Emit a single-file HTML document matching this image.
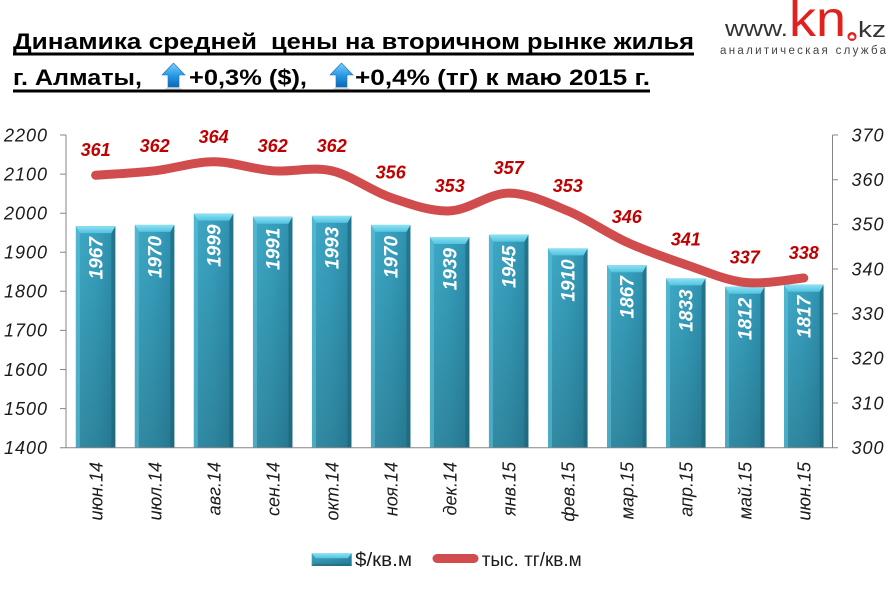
<!DOCTYPE html>
<html><head><meta charset="utf-8"><style>
html,body{margin:0;padding:0;background:#fff;}
svg{display:block;}
text{font-family:"Liberation Sans","DejaVu Sans",sans-serif;}
</style></head><body>
<svg width="886" height="591" viewBox="0 0 886 591" xmlns="http://www.w3.org/2000/svg">
<defs>
<linearGradient id="bodyH" x1="0" y1="0" x2="1" y2="0">
<stop offset="0" stop-color="#3fa9c6"/><stop offset="0.5" stop-color="#37a0be"/><stop offset="1" stop-color="#2d8fad"/>
</linearGradient>
<linearGradient id="shadeV" x1="0" y1="0" x2="0" y2="1">
<stop offset="0" stop-color="#000" stop-opacity="0"/><stop offset="1" stop-color="#000" stop-opacity="0.18"/>
</linearGradient>
<linearGradient id="capG" x1="0" y1="0" x2="0" y2="1">
<stop offset="0" stop-color="#8fe2f3"/><stop offset="1" stop-color="#52c3e0"/>
</linearGradient>
<linearGradient id="arrG" x1="0" y1="0" x2="0" y2="1">
<stop offset="0" stop-color="#7fd0fa"/><stop offset="0.5" stop-color="#2b9ae6"/><stop offset="1" stop-color="#0b67b5"/>
</linearGradient>
<g id="arrow">
<ellipse cx="11.5" cy="26" rx="8" ry="2.5" fill="#000" opacity="0.15"/>
<polygon points="11.5,0 0,12 6,12 6,24 17,24 17,12 23,12" fill="url(#arrG)" stroke="#1273bf" stroke-width="0.6"/>
</g>
</defs>

<!-- Title -->
<g font-weight="bold" fill="#000" font-size="22">
<text x="13" y="49" textLength="244" lengthAdjust="spacingAndGlyphs">Динамика средней</text>
<text x="271" y="49" textLength="423" lengthAdjust="spacingAndGlyphs">цены на вторичном рынке жилья</text>
<rect x="13" y="52.5" width="681" height="3" fill="#000"/>
<text x="13" y="85" textLength="129" lengthAdjust="spacingAndGlyphs">г. Алматы,</text>
<text x="189" y="85" textLength="118" lengthAdjust="spacingAndGlyphs">+0,3% ($),</text>
<text x="355" y="85" textLength="295" lengthAdjust="spacingAndGlyphs">+0,4% (тг) к маю 2015 г.</text>
<rect x="13" y="89.5" width="637" height="3" fill="#000"/>
</g>
<use href="#arrow" x="162" y="63"/>
<use href="#arrow" x="330" y="63"/>

<!-- Logo -->
<text x="725" y="36" font-size="22" fill="#333" textLength="63" lengthAdjust="spacingAndGlyphs">www.</text>
<text x="789" y="36" font-size="50" fill="#e0221f" textLength="57" lengthAdjust="spacingAndGlyphs">kn</text>
<circle cx="852" cy="36.5" r="4.5" fill="#e0221f"/>
<path d="M849.6,38.5 L849.6,36.3 L852,34.3 L854.4,36.3 L854.4,38.5 Z" fill="#fff"/>
<text x="858" y="37" font-size="22" fill="#333" textLength="28" lengthAdjust="spacingAndGlyphs">kz</text>
<text x="720" y="54" font-size="11.5" fill="#444" textLength="166" lengthAdjust="spacing">аналитическая служба</text>

<!-- Bars -->
<g>
<g transform="translate(75.85,226.1)"><rect width="39.5" height="221.4" fill="url(#bodyH)"/><rect width="39.5" height="221.4" fill="url(#shadeV)"/><polygon points="0,0 4,7 4,221.4 0,221.4" fill="#5cc0da" opacity="0.6"/><polygon points="39.5,0 35.5,7 35.5,221.4 39.5,221.4" fill="#1d6172" opacity="0.55"/><polygon points="0,0 39.5,0 35.5,7 4,7" fill="url(#capG)"/></g>
<g transform="translate(134.85,224.9)"><rect width="39.5" height="222.6" fill="url(#bodyH)"/><rect width="39.5" height="222.6" fill="url(#shadeV)"/><polygon points="0,0 4,7 4,222.6 0,222.6" fill="#5cc0da" opacity="0.6"/><polygon points="39.5,0 35.5,7 35.5,222.6 39.5,222.6" fill="#1d6172" opacity="0.55"/><polygon points="0,0 39.5,0 35.5,7 4,7" fill="url(#capG)"/></g>
<g transform="translate(193.85,213.6)"><rect width="39.5" height="233.9" fill="url(#bodyH)"/><rect width="39.5" height="233.9" fill="url(#shadeV)"/><polygon points="0,0 4,7 4,233.9 0,233.9" fill="#5cc0da" opacity="0.6"/><polygon points="39.5,0 35.5,7 35.5,233.9 39.5,233.9" fill="#1d6172" opacity="0.55"/><polygon points="0,0 39.5,0 35.5,7 4,7" fill="url(#capG)"/></g>
<g transform="translate(252.95,216.7)"><rect width="39.5" height="230.8" fill="url(#bodyH)"/><rect width="39.5" height="230.8" fill="url(#shadeV)"/><polygon points="0,0 4,7 4,230.8 0,230.8" fill="#5cc0da" opacity="0.6"/><polygon points="39.5,0 35.5,7 35.5,230.8 39.5,230.8" fill="#1d6172" opacity="0.55"/><polygon points="0,0 39.5,0 35.5,7 4,7" fill="url(#capG)"/></g>
<g transform="translate(311.95,215.9)"><rect width="39.5" height="231.6" fill="url(#bodyH)"/><rect width="39.5" height="231.6" fill="url(#shadeV)"/><polygon points="0,0 4,7 4,231.6 0,231.6" fill="#5cc0da" opacity="0.6"/><polygon points="39.5,0 35.5,7 35.5,231.6 39.5,231.6" fill="#1d6172" opacity="0.55"/><polygon points="0,0 39.5,0 35.5,7 4,7" fill="url(#capG)"/></g>
<g transform="translate(370.95,224.9)"><rect width="39.5" height="222.6" fill="url(#bodyH)"/><rect width="39.5" height="222.6" fill="url(#shadeV)"/><polygon points="0,0 4,7 4,222.6 0,222.6" fill="#5cc0da" opacity="0.6"/><polygon points="39.5,0 35.5,7 35.5,222.6 39.5,222.6" fill="#1d6172" opacity="0.55"/><polygon points="0,0 39.5,0 35.5,7 4,7" fill="url(#capG)"/></g>
<g transform="translate(429.95,237.0)"><rect width="39.5" height="210.5" fill="url(#bodyH)"/><rect width="39.5" height="210.5" fill="url(#shadeV)"/><polygon points="0,0 4,7 4,210.5 0,210.5" fill="#5cc0da" opacity="0.6"/><polygon points="39.5,0 35.5,7 35.5,210.5 39.5,210.5" fill="#1d6172" opacity="0.55"/><polygon points="0,0 39.5,0 35.5,7 4,7" fill="url(#capG)"/></g>
<g transform="translate(488.95,234.7)"><rect width="39.5" height="212.8" fill="url(#bodyH)"/><rect width="39.5" height="212.8" fill="url(#shadeV)"/><polygon points="0,0 4,7 4,212.8 0,212.8" fill="#5cc0da" opacity="0.6"/><polygon points="39.5,0 35.5,7 35.5,212.8 39.5,212.8" fill="#1d6172" opacity="0.55"/><polygon points="0,0 39.5,0 35.5,7 4,7" fill="url(#capG)"/></g>
<g transform="translate(548.05,248.4)"><rect width="39.5" height="199.1" fill="url(#bodyH)"/><rect width="39.5" height="199.1" fill="url(#shadeV)"/><polygon points="0,0 4,7 4,199.1 0,199.1" fill="#5cc0da" opacity="0.6"/><polygon points="39.5,0 35.5,7 35.5,199.1 39.5,199.1" fill="#1d6172" opacity="0.55"/><polygon points="0,0 39.5,0 35.5,7 4,7" fill="url(#capG)"/></g>
<g transform="translate(607.05,265.2)"><rect width="39.5" height="182.3" fill="url(#bodyH)"/><rect width="39.5" height="182.3" fill="url(#shadeV)"/><polygon points="0,0 4,7 4,182.3 0,182.3" fill="#5cc0da" opacity="0.6"/><polygon points="39.5,0 35.5,7 35.5,182.3 39.5,182.3" fill="#1d6172" opacity="0.55"/><polygon points="0,0 39.5,0 35.5,7 4,7" fill="url(#capG)"/></g>
<g transform="translate(666.05,278.4)"><rect width="39.5" height="169.1" fill="url(#bodyH)"/><rect width="39.5" height="169.1" fill="url(#shadeV)"/><polygon points="0,0 4,7 4,169.1 0,169.1" fill="#5cc0da" opacity="0.6"/><polygon points="39.5,0 35.5,7 35.5,169.1 39.5,169.1" fill="#1d6172" opacity="0.55"/><polygon points="0,0 39.5,0 35.5,7 4,7" fill="url(#capG)"/></g>
<g transform="translate(725.05,286.7)"><rect width="39.5" height="160.8" fill="url(#bodyH)"/><rect width="39.5" height="160.8" fill="url(#shadeV)"/><polygon points="0,0 4,7 4,160.8 0,160.8" fill="#5cc0da" opacity="0.6"/><polygon points="39.5,0 35.5,7 35.5,160.8 39.5,160.8" fill="#1d6172" opacity="0.55"/><polygon points="0,0 39.5,0 35.5,7 4,7" fill="url(#capG)"/></g>
<g transform="translate(784.05,284.7)"><rect width="39.5" height="162.8" fill="url(#bodyH)"/><rect width="39.5" height="162.8" fill="url(#shadeV)"/><polygon points="0,0 4,7 4,162.8 0,162.8" fill="#5cc0da" opacity="0.6"/><polygon points="39.5,0 35.5,7 35.5,162.8 39.5,162.8" fill="#1d6172" opacity="0.55"/><polygon points="0,0 39.5,0 35.5,7 4,7" fill="url(#capG)"/></g>
</g>

<!-- Bar labels -->
<g font-size="19" font-weight="bold" font-style="italic" fill="#fff" text-anchor="end">
<text transform="translate(95.6,237.1) rotate(-90)" dy="0.36em">1967</text>
<text transform="translate(154.6,235.9) rotate(-90)" dy="0.36em">1970</text>
<text transform="translate(213.6,224.6) rotate(-90)" dy="0.36em">1999</text>
<text transform="translate(272.7,227.7) rotate(-90)" dy="0.36em">1991</text>
<text transform="translate(331.7,226.9) rotate(-90)" dy="0.36em">1993</text>
<text transform="translate(390.7,235.9) rotate(-90)" dy="0.36em">1970</text>
<text transform="translate(449.7,248.0) rotate(-90)" dy="0.36em">1939</text>
<text transform="translate(508.7,245.7) rotate(-90)" dy="0.36em">1945</text>
<text transform="translate(567.8,259.4) rotate(-90)" dy="0.36em">1910</text>
<text transform="translate(626.8,276.2) rotate(-90)" dy="0.36em">1867</text>
<text transform="translate(685.8,289.4) rotate(-90)" dy="0.36em">1833</text>
<text transform="translate(744.8,297.7) rotate(-90)" dy="0.36em">1812</text>
<text transform="translate(803.8,295.7) rotate(-90)" dy="0.36em">1817</text>
</g>

<!-- Axes -->
<g stroke="#868686" stroke-width="1" fill="none">
<line x1="66" y1="135" x2="66" y2="448"/>
<line x1="832.5" y1="135" x2="832.5" y2="448"/>
<line x1="60" y1="447.7" x2="838" y2="447.7"/>
<path d="M60,408.6H66M60,369.5H66M60,330.4H66M60,291.3H66M60,252.3H66M60,213.2H66M60,174.1H66M60,135H66"/>
<path d="M832.5,403H838M832.5,358.4H838M832.5,313.7H838M832.5,269H838M832.5,224.4H838M832.5,179.7H838M832.5,135H838"/>
</g>

<!-- Left axis labels -->
<g font-size="18" font-style="italic" fill="#1a1a1a" letter-spacing="1">
<text x="4" y="141.3">2200</text>
<text x="4" y="180.4">2100</text>
<text x="4" y="219.5">2000</text>
<text x="4" y="258.6">1900</text>
<text x="4" y="297.6">1800</text>
<text x="4" y="336.7">1700</text>
<text x="4" y="375.8">1600</text>
<text x="4" y="414.9">1500</text>
<text x="4" y="454">1400</text>
</g>
<!-- Right axis labels -->
<g font-size="18" font-style="italic" fill="#1a1a1a" letter-spacing="1">
<text x="851.5" y="141.3">370</text>
<text x="851.5" y="186">360</text>
<text x="851.5" y="230.7">350</text>
<text x="851.5" y="275.3">340</text>
<text x="851.5" y="320">330</text>
<text x="851.5" y="364.7">320</text>
<text x="851.5" y="409.3">310</text>
<text x="851.5" y="454">300</text>
</g>

<!-- X labels -->
<g font-size="18" font-style="italic" fill="#1a1a1a" text-anchor="end">
<text transform="translate(95.6,462) rotate(-90)" dy="0.38em">июн.14</text>
<text transform="translate(154.6,462) rotate(-90)" dy="0.38em">июл.14</text>
<text transform="translate(213.6,462) rotate(-90)" dy="0.38em">авг.14</text>
<text transform="translate(272.7,462) rotate(-90)" dy="0.38em">сен.14</text>
<text transform="translate(331.7,462) rotate(-90)" dy="0.38em">окт.14</text>
<text transform="translate(390.7,462) rotate(-90)" dy="0.38em">ноя.14</text>
<text transform="translate(449.7,462) rotate(-90)" dy="0.38em">дек.14</text>
<text transform="translate(508.7,462) rotate(-90)" dy="0.38em">янв.15</text>
<text transform="translate(567.8,462) rotate(-90)" dy="0.38em">фев.15</text>
<text transform="translate(626.8,462) rotate(-90)" dy="0.38em">мар.15</text>
<text transform="translate(685.8,462) rotate(-90)" dy="0.38em">апр.15</text>
<text transform="translate(744.8,462) rotate(-90)" dy="0.38em">май.15</text>
<text transform="translate(803.8,462) rotate(-90)" dy="0.38em">июн.15</text>
</g>

<!-- Line -->
<path d="M95.6,175.2 C105.44,174.47 134.93,173.03 154.6,170.8 C174.27,168.57 193.93,161.8 213.6,161.8 C233.27,161.8 253.03,169.3 272.7,170.8 C292.37,172.3 312.03,166.35 331.7,170.8 C351.37,175.25 371.03,190.82 390.7,197.5 C410.37,204.18 430.03,211.63 449.7,210.9 C469.37,210.17 489.03,193.1 508.7,193.1 C528.37,193.1 548.13,202.72 567.8,210.9 C587.47,219.08 607.13,233.25 626.8,242.2 C646.47,251.15 666.13,257.9 685.8,264.6 C705.47,271.3 725.13,280.17 744.8,282.4 C764.47,284.63 793.96,278.73 803.8,278.0" fill="none" stroke="#d14d4d" stroke-width="9" stroke-linecap="round" stroke-linejoin="round"/>

<!-- Line labels -->
<g font-size="18" font-weight="bold" font-style="italic" fill="#c00000" text-anchor="middle">
<text x="95.6" y="156.2">361</text>
<text x="154.6" y="151.8">362</text>
<text x="213.6" y="142.8">364</text>
<text x="272.7" y="151.8">362</text>
<text x="331.7" y="151.8">362</text>
<text x="390.7" y="178.5">356</text>
<text x="449.7" y="191.9">353</text>
<text x="508.7" y="174.1">357</text>
<text x="567.8" y="191.9">353</text>
<text x="626.8" y="223.2">346</text>
<text x="685.8" y="245.6">341</text>
<text x="744.8" y="263.4">337</text>
<text x="803.8" y="259">338</text>
</g>

<!-- Legend -->
<g transform="translate(311.7,553.3)"><rect width="40" height="12.7" fill="url(#bodyH)"/><rect width="40" height="12.7" fill="url(#shadeV)"/><polygon points="0,0 40,0 36,5 4,5" fill="url(#capG)"/><polygon points="0,12.7 40,12.7 37,10.5 3,10.5" fill="#1d6172" opacity="0.5"/></g>
<text x="355" y="566" font-size="19" fill="#1a1a1a" textLength="57" lengthAdjust="spacingAndGlyphs">$/кв.м</text>
<line x1="437" y1="558.5" x2="474" y2="558.5" stroke="#d14d4d" stroke-width="9" stroke-linecap="round"/>
<text x="481.7" y="566" font-size="19" fill="#1a1a1a" textLength="100" lengthAdjust="spacingAndGlyphs">тыс. тг/кв.м</text>
</svg>
</body></html>
